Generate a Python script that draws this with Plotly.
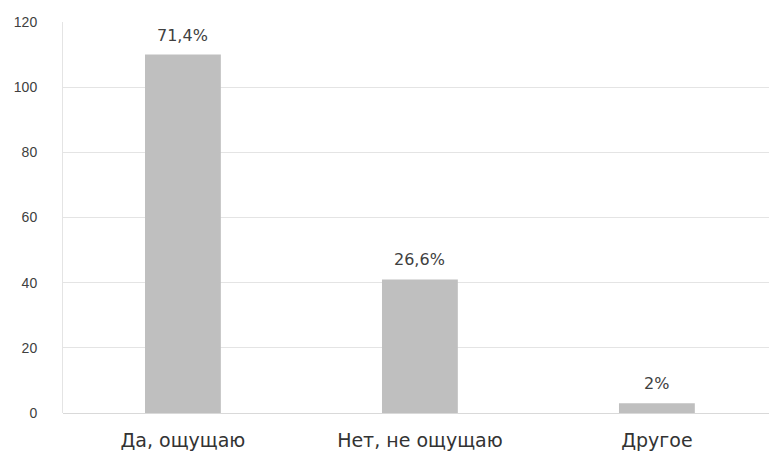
import plotly.graph_objects as go

# Survey answers and respondent counts
categories = ["Да, ощущаю", "Нет, не ощущаю", "Другое"]
counts = [110, 41, 3]
share_labels = ["71,4%", "26,6%", "2%"]
y_ticks = [0, 20, 40, 60, 80, 100, 120]

fig = go.Figure(
    go.Bar(
        x=categories,
        y=counts,
        marker=dict(color="#bfbfbf", line=dict(width=0)),
        width=0.32,
    )
)

# Percentage labels sitting just above each bar
for cat, val, lab in zip(categories, counts, share_labels):
    fig.add_annotation(
        x=cat, y=val, text=lab,
        showarrow=False, yanchor="bottom", yshift=8,
        font=dict(size=16, color="#404040", family="DejaVu Sans, sans-serif"),
    )

fig.update_layout(
    width=769,
    height=459,
    margin=dict(l=63, r=0, t=22, b=46),
    paper_bgcolor="white",
    plot_bgcolor="white",
    font=dict(family="DejaVu Sans, sans-serif", color="#404040"),
    showlegend=False,
)

fig.update_xaxes(
    range=[-0.506, 2.473],
    tickfont=dict(size=19, color="#333333"),
    showgrid=False,
    showline=False,
    ticks="",
    ticklabelstandoff=14,
)

fig.update_yaxes(
    range=[0, 120],
    tickvals=y_ticks,
    tickfont=dict(size=14, color="#404040", family="Liberation Sans, Arial, sans-serif"),
    showgrid=True,
    gridcolor="#e4e4e4",
    gridwidth=1,
    zeroline=True,
    zerolinecolor="#d9d9d9",
    zerolinewidth=1,
    showline=True,
    linecolor="#e4e4e4",
    ticks="",
    ticklabelstandoff=22,
)

fig.write_html("out.html")
